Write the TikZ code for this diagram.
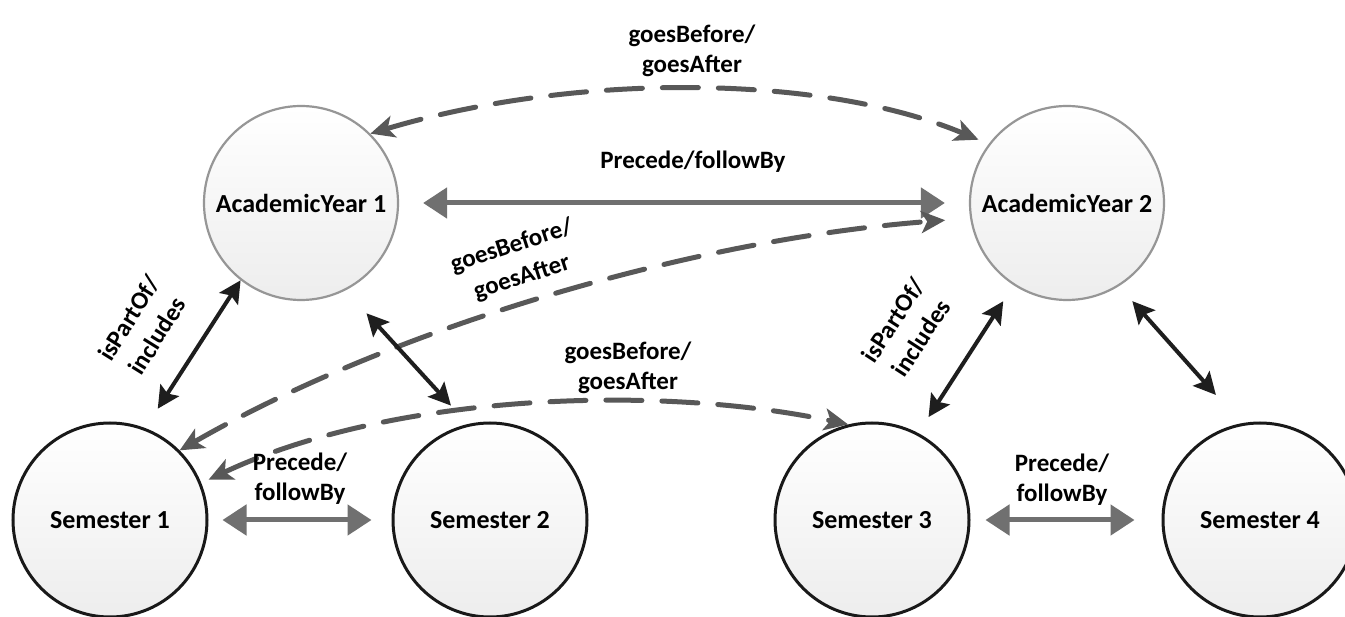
\documentclass[tikz,border=0pt]{standalone}
\usepackage{fontspec}
\setmainfont{Carlito}
\usetikzlibrary{arrows.meta}
\definecolor{dashgray}{RGB}{88,88,88}
\definecolor{precgray}{RGB}{112,112,112}
\definecolor{aygray}{RGB}{150,150,150}
\definecolor{semblack}{RGB}{25,25,25}
\definecolor{blk}{RGB}{30,30,30}
\tikzset{
  yearnode/.style={circle, minimum size=194pt, inner sep=0pt, draw=aygray, line width=2.2pt,
    top color=white, bottom color=gray!14, font=\fontsize{26}{30}\selectfont\bfseries},
  semnode/.style={circle, minimum size=194pt, inner sep=0pt, draw=semblack, line width=3pt,
    top color=white, bottom color=gray!14, font=\fontsize{26}{30}\selectfont\bfseries},
  lbl/.style={align=center, inner sep=0pt, font=\fontsize{25}{30}\selectfont\bfseries},
  rlbl/.style={align=center, inner sep=0pt, font=\fontsize{25}{33}\selectfont\bfseries},
  dasharrow/.style={draw=dashgray, line width=5pt, dash pattern=on 36pt off 20pt, line cap=round,
    {Stealth[length=24pt,width=22pt,inset=6pt]}-{Stealth[length=24pt,width=22pt,inset=6pt]}},
  precarrow/.style={draw=precgray, line width=5pt,
    {Triangle[length=24pt,width=30pt]}-{Triangle[length=24pt,width=30pt]}},
  blkarrow/.style={draw=blk, line width=4pt,
    {Stealth[length=22pt,width=22pt,inset=4pt]}-{Stealth[length=22pt,width=22pt,inset=4pt]}}
}
\begin{document}
\begin{tikzpicture}[x=1pt,y=-1pt]
\fill[white] (0,0) rectangle (1345,617);
\useasboundingbox (0,0) rectangle (1345,617);

\node[yearnode] (AY1) at (301,203) {AcademicYear 1};
\node[yearnode] (AY2) at (1067,203) {AcademicYear 2};
\node[semnode] (S1) at (110,520) {Semester 1};
\node[semnode] (S2) at (490,520) {Semester 2};
\node[semnode] (S3) at (872,520) {Semester 3};
\node[semnode] (S4) at (1260,520) {Semester 4};

% goesBefore/goesAfter top
\draw[dasharrow, shorten >=11pt] (AY1.45) .. controls (573,73) and (819,73) .. (AY2.143);
% Precede/followBy between years
\draw[precarrow, shorten <=24pt, shorten >=24pt] (AY1.0) -- (AY2.180);
% goesBefore/goesAfter AY2 - S1
\draw[dasharrow, shorten >=25pt] (S1.45) .. controls (394,327) and (696,239) .. (AY2.189);
% goesBefore/goesAfter S1 - S3
\draw[dasharrow, shorten <=8pt] (S1.22) .. controls (388,395) and (652,383) .. (S3.104);
% isPartOf/includes
\draw[blkarrow, shorten <=23pt] (S1.69) -- (AY1.232);
\draw[blkarrow, shorten <=31pt, shorten >=25pt] (AY1.297) -- (S2.103);
\draw[blkarrow, shorten <=19pt, shorten >=19pt] (S3.62) -- (AY2.237);
\draw[blkarrow, shorten <=20pt, shorten >=38pt] (AY2.302) -- (S4.101);
% Precede/followBy between semesters
\draw[precarrow, shorten <=14pt, shorten >=20pt] (S1.0) -- (S2.180);
\draw[precarrow, shorten <=15pt, shorten >=27pt] (S3.0) -- (S4.180);

% labels
\node[lbl] (lTop) at (692,51) {goesBefore/\\goesAfter};
\node[lbl] (lPrecAY) at (693,162) {Precede/followBy};
\node[rlbl, rotate=18] (lMid) at (517,262) {goesBefore/\\goesAfter};
\node[lbl] (lLow) at (628,368) {goesBefore/\\goesAfter};
\node[rlbl, rotate=58] (lPart1) at (143,327) {isPartOf/\\includes};
\node[rlbl, rotate=57] (lPart2) at (907,329) {isPartOf/\\includes};
\node[lbl] (lPrec12) at (300,479) {Precede/\\followBy};
\node[lbl] (lPrec34) at (1062,480) {Precede/\\followBy};
\end{tikzpicture}
\end{document}
